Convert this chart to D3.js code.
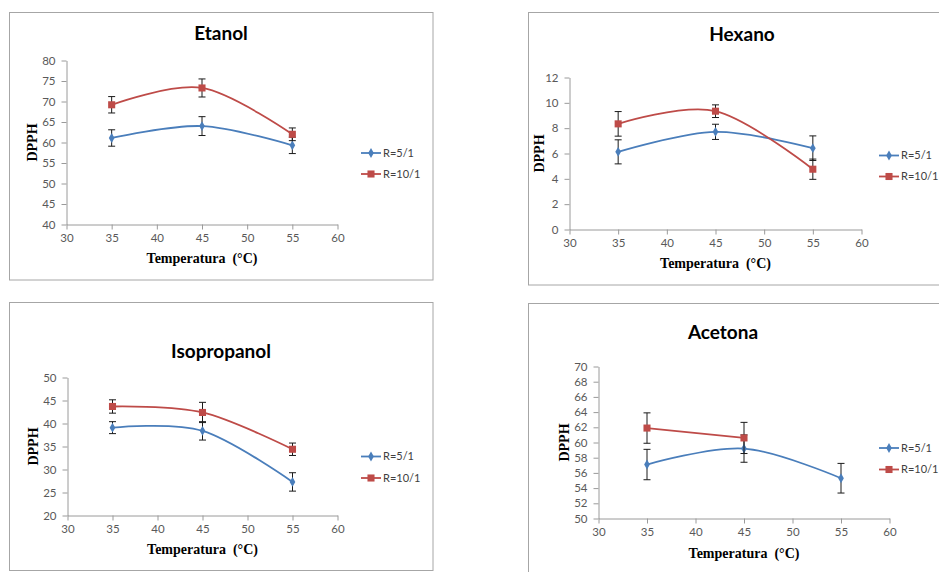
<!DOCTYPE html>
<html>
<head>
<meta charset="utf-8">
<script src="https://cdn.jsdelivr.net/npm/d3@7"></script>
<style>
  body { margin: 0; background: #fff; }
  .Box { fill: #fff; stroke: #a6a6a6; stroke-width: 1; }
  .ChartTitle { font-family: Lato, "Liberation Sans", sans-serif; font-weight: bold; font-size: 19px; fill: #000; }
  .AxisLabel { font-family: "Liberation Serif", serif; font-weight: bold; font-size: 14px; fill: #000; }
  .axis path, .axis line { stroke: #9a9a9a; }
  .axis text { font-family: Lato, "Liberation Sans", sans-serif; font-size: 11.5px; fill: #595959; }
  .LegendText { font-family: Lato, "Liberation Sans", sans-serif; font-size: 11px; fill: #404040; }
</style>
</head>
<body>
<div id="ChartContainer"></div>
<script>
// data
var temps = [35, 45, 55]
var seriesNames = ["R=5/1", "R=10/1"]
var xTicks = [30, 35, 40, 45, 50, 55, 60]

var etanol5 = [61.1, 64.0, 59.3]
var etanol5Err = [2.0, 2.3, 2.0]
var etanol10 = [69.2, 73.3, 62.0]
var etanol10Err = [2.0, 2.2, 1.55]
var etanolTicks = [40, 45, 50, 55, 60, 65, 70, 75, 80]

var hexano5 = [6.13, 7.71, 6.42]
var hexano5Err = [0.95, 0.6, 0.97]
var hexano10 = [8.34, 9.34, 4.76]
var hexano10Err = [0.97, 0.5, 0.8]
var hexanoTicks = [0, 2, 4, 6, 8, 10, 12]

var isopropanol5 = [39.1, 38.4, 27.3]
var isopropanol5Err = [1.3, 2.0, 2.0]
var isopropanol10 = [43.7, 42.4, 34.4]
var isopropanol10Err = [1.45, 2.2, 1.35]
var isopropanolTicks = [20, 25, 30, 35, 40, 45, 50]

var acetona5 = [57.1, 59.2, 55.3]
var acetona5Err = [2.0, 1.8, 1.95]
var acetona10 = [61.9, 60.6]
var acetona10Err = [2.0, 2.05]
var acetonaTicks = [50, 52, 54, 56, 58, 60, 62, 64, 66, 68, 70]

var colors = ["#4a7ebb", "#be4b48"]

var panels = [
  { title: "Etanol", s5: etanol5, e5: etanol5Err, s10: etanol10, e10: etanol10Err, ticks: etanolTicks,
    box: [9.5, 12.5, 423.5, 267.5], plot: [66.5, 337.5, 60.5, 224.5], titleXY: [221, 33],
    legend: [361, 153, 174], yLabelX: 32, xLabelY: 258 },
  { title: "Hexano", s5: hexano5, e5: hexano5Err, s10: hexano10, e10: hexano10Err, ticks: hexanoTicks,
    box: [528.5, 12.5, 430, 272.5], plot: [569.5, 861.5, 77.5, 229.5], titleXY: [742, 34],
    legend: [879, 155.5, 176.5], yLabelX: 539, xLabelY: 263 },
  { title: "Isopropanol", s5: isopropanol5, e5: isopropanol5Err, s10: isopropanol10, e10: isopropanol10Err, ticks: isopropanolTicks,
    box: [9.5, 302.5, 423.5, 268], plot: [67.5, 337.5, 377.5, 515.5], titleXY: [221, 351],
    legend: [361, 456.5, 478], yLabelX: 33, xLabelY: 549 },
  { title: "Acetona", s5: acetona5, e5: acetona5Err, s10: acetona10, e10: acetona10Err, ticks: acetonaTicks,
    box: [528.5, 303.5, 430, 290], plot: [598.5, 889.5, 366.5, 518.5], titleXY: [723, 332],
    legend: [879, 448, 469.5], yLabelX: 564, xLabelY: 553 },
]

var svg = d3.select("#ChartContainer").append("svg")
  .attr("width", 939)
  .attr("height", 572)

panels.forEach(p => {
  var g = svg.append("g")

  g.append("rect")
    .attr("class", "Box")
    .attr("x", p.box[0])
    .attr("y", p.box[1])
    .attr("width", p.box[2])
    .attr("height", p.box[3])

  g.append("text")
    .attr("class", "ChartTitle")
    .attr("x", p.titleXY[0])
    .attr("y", p.titleXY[1])
    .attr("dy", "0.35em")
    .attr("text-anchor", "middle")
    .text(p.title)

  var x = d3.scaleLinear().domain([30, 60]).range([p.plot[0], p.plot[1]])
  var y = d3.scaleLinear()
    .domain([p.ticks[0], p.ticks[p.ticks.length - 1]])
    .range([p.plot[3], p.plot[2]])

  // axes
  g.append("g")
    .attr("class", "axis axis-x")
    .attr("transform", `translate(0,${p.plot[3]})`)
    .call(d3.axisBottom(x).tickValues(xTicks).tickSize(5).tickPadding(4).tickSizeOuter(0))
  g.append("g")
    .attr("class", "axis axis-y")
    .attr("transform", `translate(${p.plot[0]},0)`)
    .call(d3.axisLeft(y).tickValues(p.ticks).tickSize(5).tickPadding(6).tickSizeOuter(0))

  // axis labels
  g.append("text")
    .attr("class", "AxisLabel")
    .attr("x", (p.plot[0] + p.plot[1]) / 2)
    .attr("y", p.xLabelY)
    .attr("dy", "0.35em")
    .attr("text-anchor", "middle")
    .attr("xml:space", "preserve")
    .text("Temperatura  (°C)")
  g.append("text")
    .attr("class", "AxisLabel")
    .attr("transform", `translate(${p.yLabelX},${(p.plot[2] + p.plot[3]) / 2}) rotate(-90)`)
    .attr("dy", "0.35em")
    .attr("text-anchor", "middle")
    .text("DPPH")

  var series = [
    { vals: p.s5, errs: p.e5 },
    { vals: p.s10, errs: p.e10 },
  ]

  var line = d3.line()
    .x(d => x(d.t))
    .y(d => y(d.v))
    .curve(d3.curveCardinal.tension(0))

  series.forEach((s, i) => {
    var pts = s.vals.map((v, k) => ({ t: temps[k], v: v, e: s.errs[k] }))

    g.append("path")
      .datum(pts)
      .attr("fill", "none")
      .attr("stroke", colors[i])
      .attr("stroke-width", 1.8)
      .attr("d", line)

    // error bars
    var eb = g.selectAll(null).data(pts).enter().append("g")
      .attr("stroke", "#1a1a1a")
      .attr("stroke-width", 1)
    eb.append("line")
      .attr("x1", d => x(d.t)).attr("x2", d => x(d.t))
      .attr("y1", d => y(d.v - d.e)).attr("y2", d => y(d.v + d.e))
    eb.append("line")
      .attr("x1", d => x(d.t) - 3.5).attr("x2", d => x(d.t) + 3.5)
      .attr("y1", d => y(d.v + d.e)).attr("y2", d => y(d.v + d.e))
    eb.append("line")
      .attr("x1", d => x(d.t) - 3.5).attr("x2", d => x(d.t) + 3.5)
      .attr("y1", d => y(d.v - d.e)).attr("y2", d => y(d.v - d.e))

    // markers
    g.selectAll(null).data(pts).enter().append("path")
      .attr("transform", d => `translate(${x(d.t)},${y(d.v)})`)
      .attr("d", d3.symbol().type(i === 0 ? d3.symbolDiamond : d3.symbolSquare).size(i === 0 ? 28 : 50))
      .attr("fill", colors[i])
  })

  // legend
  seriesNames.forEach((name, i) => {
    var ly = p.legend[1 + i]
    g.append("line")
      .attr("x1", p.legend[0]).attr("x2", p.legend[0] + 20)
      .attr("y1", ly).attr("y2", ly)
      .attr("stroke", colors[i])
      .attr("stroke-width", 1.8)
    g.append("path")
      .attr("transform", `translate(${p.legend[0] + 10},${ly})`)
      .attr("d", d3.symbol().type(i === 0 ? d3.symbolDiamond : d3.symbolSquare).size(i === 0 ? 28 : 50))
      .attr("fill", colors[i])
    g.append("text")
      .attr("class", "LegendText")
      .attr("x", p.legend[0] + 22)
      .attr("y", ly)
      .attr("dy", "0.35em")
      .text(name)
  })
})
</script>
</body>
</html>
